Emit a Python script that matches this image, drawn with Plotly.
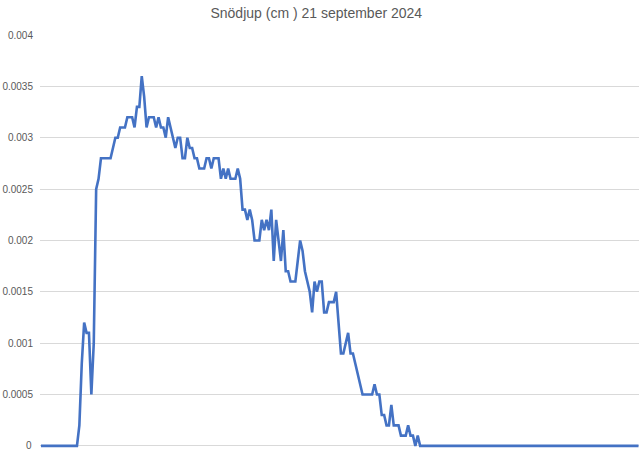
import plotly.graph_objects as go

title_text = "Snödjup (cm ) 21 september 2024"

# Snow depth values, one per sample
snow_depth = [
    0, 0, 0, 0, 0, 0, 0, 0, 0, 0,
    0, 0, 0, 0, 0, 0, 0.0002, 0.0008, 0.0012, 0.0011,
    0.0011, 0.0005, 0.001, 0.0025, 0.0026, 0.0028, 0.0028, 0.0028, 0.0028, 0.0028,
    0.0029, 0.003, 0.003, 0.0031, 0.0031, 0.0031, 0.0032, 0.0032, 0.0032, 0.0031,
    0.0033, 0.0033, 0.0036, 0.0034, 0.0031, 0.0032, 0.0032, 0.0032, 0.0031, 0.0032,
    0.0031, 0.0031, 0.003, 0.0032, 0.0031, 0.003, 0.0029, 0.003, 0.003, 0.0028,
    0.0028, 0.003, 0.0029, 0.0029, 0.0028, 0.0028, 0.0027, 0.0027, 0.0027, 0.0028,
    0.0028, 0.0027, 0.0028, 0.0028, 0.0028, 0.0026, 0.0027, 0.0026, 0.0027, 0.0026,
    0.0026, 0.0026, 0.0027, 0.0026, 0.0023, 0.0023, 0.0022, 0.0023, 0.0022, 0.002,
    0.002, 0.002, 0.0022, 0.0021, 0.0022, 0.0021, 0.0023, 0.0018, 0.0022, 0.002,
    0.0018, 0.0021, 0.0017, 0.0017, 0.0016, 0.0016, 0.0016, 0.0018, 0.002, 0.0019,
    0.0017, 0.0016, 0.0015, 0.0013, 0.0016, 0.0015, 0.0016, 0.0016, 0.0013, 0.0013,
    0.0014, 0.0014, 0.0014, 0.0015, 0.0012, 0.0009, 0.0009, 0.001, 0.0011, 0.0009,
    0.0009, 0.0008, 0.0007, 0.0006, 0.0005, 0.0005, 0.0005, 0.0005, 0.0005, 0.0006,
    0.0005, 0.0005, 0.0003, 0.0003, 0.0002, 0.0002, 0.0004, 0.0002, 0.0002, 0.0002,
    0.0001, 0.0001, 0.0001, 0.0002, 0.0001, 0.0001, 0, 0.0001, 0, 0,
    0, 0, 0, 0, 0, 0, 0, 0, 0, 0,
    0, 0, 0, 0, 0, 0, 0, 0, 0, 0,
    0, 0, 0, 0, 0, 0, 0, 0, 0, 0,
    0, 0, 0, 0, 0, 0, 0, 0, 0, 0,
    0, 0, 0, 0, 0, 0, 0, 0, 0, 0,
    0, 0, 0, 0, 0, 0, 0, 0, 0, 0,
    0, 0, 0, 0, 0, 0, 0, 0, 0, 0,
    0, 0, 0, 0, 0, 0, 0, 0, 0, 0,
    0, 0, 0, 0, 0, 0, 0, 0, 0, 0,
]
sample_index = list(range(len(snow_depth)))

y_tick_values = [0, 0.0005, 0.001, 0.0015, 0.002, 0.0025, 0.003, 0.0035, 0.004]
y_tick_labels = ["0", "0.0005", "0.001", "0.0015", "0.002", "0.0025", "0.003", "0.0035", "0.004"]

fig = go.Figure()
fig.add_trace(go.Scatter(
    x=sample_index, y=snow_depth, mode="lines",
    line=dict(color="#4472C4", width=2.6),
    showlegend=False, hoverinfo="y",
))

fig.update_layout(
    width=639, height=450,
    margin=dict(l=40, r=0, t=35, b=0),
    paper_bgcolor="white", plot_bgcolor="white",
    font=dict(family="Liberation Sans, Arial, sans-serif", color="#595959"),
    title=dict(text=title_text, x=0.495, xanchor="center", y=0.97, yanchor="middle",
               font=dict(size=14, color="#595959")),
)
fig.update_xaxes(range=[-0.4, 249.2], showticklabels=False, showgrid=False,
                 zeroline=False, showline=False, ticks="")
# the lowest label sits at the very bottom edge, where plotly drops it; draw it as a label annotation
fig.update_yaxes(range=[-0.00004, 0.004], tickvals=y_tick_values[1:], ticktext=y_tick_labels[1:],
                 showgrid=True, gridcolor="#d9d9d9", gridwidth=1,
                 zeroline=True, zerolinecolor="#d9d9d9", zerolinewidth=1,
                 showline=False, ticks="", tickfont=dict(size=10, color="#595959"),
                 ticklabelstandoff=6)
fig.add_annotation(text=y_tick_labels[0], xref="paper", x=0, xanchor="right", xshift=-6,
                   yref="y", y=y_tick_values[0], yanchor="middle", showarrow=False,
                   font=dict(size=10, color="#595959"))

fig.write_html(
    "out.html",
    config={"displayModeBar": False},
    post_script="document.body.style.margin='0';document.body.style.overflow='hidden';",
)
